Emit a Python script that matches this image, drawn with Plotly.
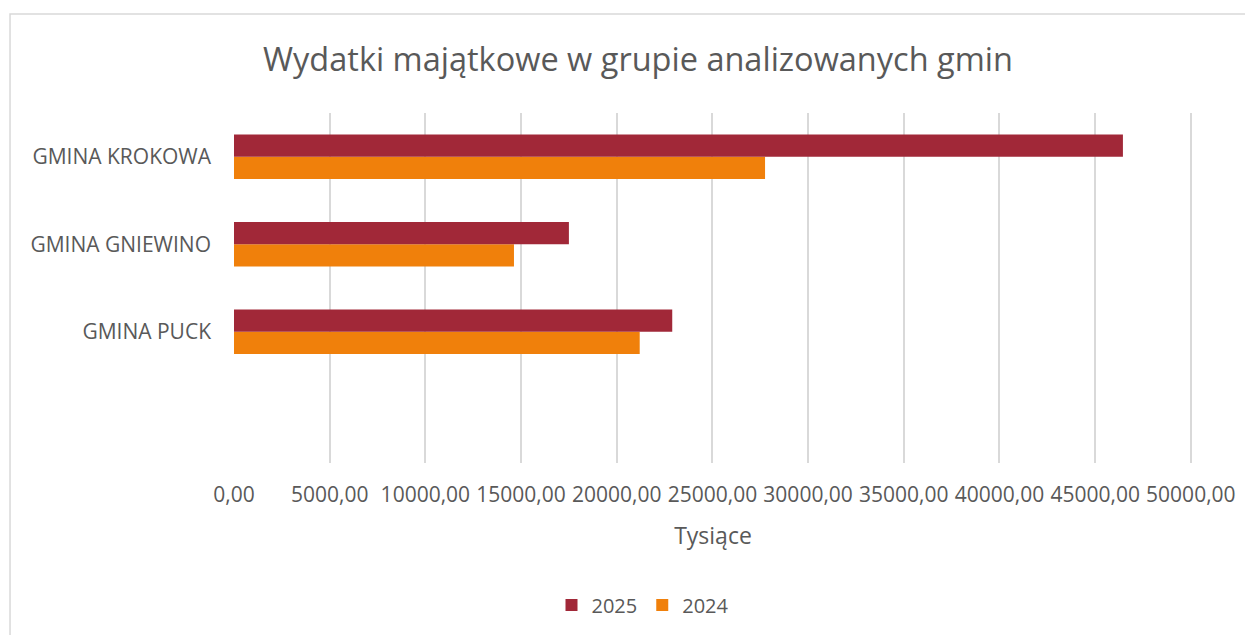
import plotly.graph_objects as go

categories = ["GMINA PUCK", "GMINA GNIEWINO", "GMINA KROKOWA"]
values_2025 = [22900, 17500, 46450]
values_2024 = [21200, 14630, 27750]
series_names = ["2025", "2024"]
title_text = "Wydatki majątkowe w grupie analizowanych gmin"
x_title = "Tysiące"

FONT = "Open Sans"
GREY = "#595959"

fig = go.Figure()
fig.add_trace(go.Bar(y=categories, x=values_2024, name=series_names[1], orientation="h",
                     marker=dict(color="#F0800B", line=dict(width=0)), legendrank=2))
fig.add_trace(go.Bar(y=categories, x=values_2025, name=series_names[0], orientation="h",
                     marker=dict(color="#A12838", line=dict(width=0)), legendrank=1))

OFF = 8  # page body margin
W, H = 1253 - OFF, 635 - OFF
XMAX = 50000
XPAD = 60  # tiny range extension so the last gridline is drawn
# reference coordinates (window pixels)
px0, px1, py0, py1 = 234, 1191, 113, 463
px1e = px1 + (px1 - px0) * XPAD / XMAX
l, r = px0 - OFF, (1253 - px1e)
t, b = py0 - OFF, (635 - py1)
pw, ph = W - l - r, H - t - b


def cx(x):  # window x -> container fraction
    return (x - OFF) / W


def cy(y):  # window y -> container fraction (from bottom)
    return 1 - (y - OFF) / H


fig.update_layout(
    width=W, height=H,
    margin=dict(l=l, r=r, t=t, b=b, autoexpand=False),
    paper_bgcolor="white", plot_bgcolor="white",
    barmode="group", bargap=0.49, bargroupgap=0,
    separators=", ",
    font=dict(family=FONT, color=GREY, size=21),
    title=dict(text=title_text, x=cx(638), xanchor="center", xref="container",
               y=cy(60), yanchor="middle", yref="container",
               font=dict(size=32.5, color=GREY, family=FONT)),
    legend=dict(orientation="h", x=cx(643), xanchor="center", xref="container",
                y=cy(605), yanchor="middle", yref="container",
                font=dict(size=20, color=GREY), itemwidth=30, traceorder="normal"),
    xaxis=dict(range=[0, XMAX + XPAD], tickvals=list(range(0, XMAX + 1, 5000)),
               tickformat=".2f", tickangle=0, showgrid=True,
               gridcolor="#D9D9D9", gridwidth=1.5, zeroline=False, showline=False,
               ticks="", ticklabelstandoff=17, tickfont=dict(size=21, color=GREY),
               title=dict(text=x_title, font=dict(size=23, color=GREY), standoff=20)),
    yaxis=dict(type="category", categoryorder="array", categoryarray=categories,
               range=[-1.5, 2.5], showgrid=False, zeroline=False, showline=False,
               ticks="", ticklabelstandoff=22, tickfont=dict(size=21, color=GREY)),
    shapes=[dict(type="rect", xref="paper", yref="paper",
                 x0=(10 - px0) / pw, x1=(1253 + 5 - px0) / pw,
                 y0=(py1 - 14) / ph, y1=-(635 + 5 - py1) / ph,
                 line=dict(color="#D9D9D9", width=1.5), fillcolor="rgba(0,0,0,0)",
                 layer="below")],
)

fig.write_html("out.html")
